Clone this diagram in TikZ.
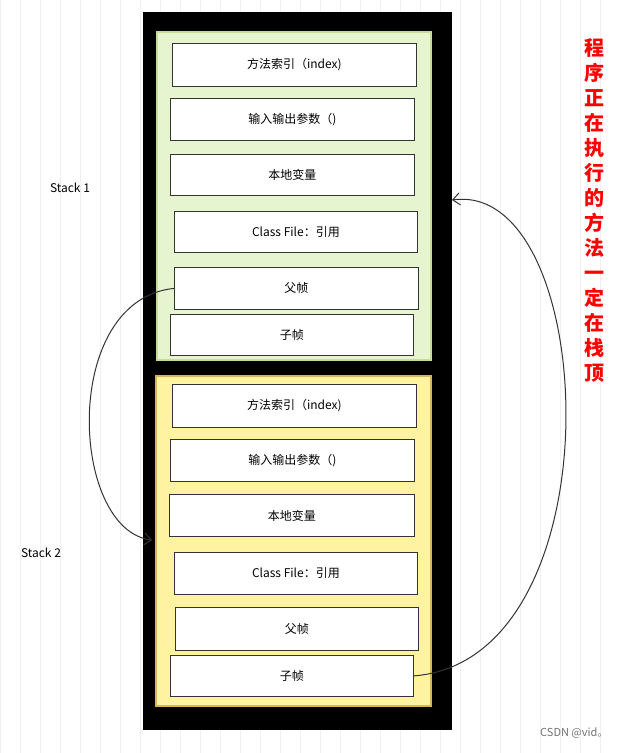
\documentclass[tikz,border=0pt]{standalone}
\usepackage{fontspec}
\setmainfont{Noto Sans CJK SC}
\usetikzlibrary{arrows.meta}
\begin{document}
\begin{tikzpicture}[x=1pt,y=-1pt,
  fr/.style={draw=black!80,fill=white,line width=0.8pt,font=\fontsize{12}{14}\selectfont},
  conn/.style={draw=black!80,line width=1pt,-{Straight Barb[length=7pt,width=12pt]}}]
\useasboundingbox (0,0) rectangle (618,753);
\fill[white] (0,0) rectangle (618,753);
\draw[black!6,step=20] (0,0) grid (618,753);
\fill[black] (143,12) rectangle (452,730);
\draw[fill={rgb,255:red,230;green,245;blue,208},draw={rgb,255:red,200;green,220;blue,150},line width=1.5pt] (157,32) rectangle (431,360);
\draw[fill={rgb,255:red,255;green,242;blue,160},draw={rgb,255:red,214;green,182;blue,86},line width=1.5pt] (156,376) rectangle (431,706);
\foreach \n/\a/\b/\c/\d/\t in {
 a1/172/43/416/86/{方法索引（index)},a2/170/98/414/140/{输入输出参数（)},a3/170/154/414/195/本地变量,
 a4/174/211/417/252/{Class File：引用},a5/174/267/418/309/父帧,a6/170/314/413/355/子帧,
 b1/172/384/416/427/{方法索引（index)},b2/170/439/414/481/{输入输出参数（)},b3/169/494/414/536/本地变量,
 b4/174/552/417/594/{Class File：引用},b5/175/607/418/650/父帧,b6/170/655/413/696/子帧}
 \node[fr,minimum width={\c-\a},minimum height={\d-\b},inner sep=0,anchor=north west] (\n) at (\a,\b) {\t};
\node[font=\fontsize{12}{14}\selectfont] (s1) at (70,188) {Stack 1};
\node[font=\fontsize{12}{14}\selectfont] (s2) at (41,553) {Stack 2};
\node[text=red,font=\fontsize{20}{25}\selectfont\bfseries,align=center,anchor=north] (note) at (594,35)
 {程\\序\\正\\在\\执\\行\\的\\方\\法\\一\\定\\在\\栈\\顶};
\node[text=black!55,font=\fontsize{11}{13}\selectfont,anchor=east] (wm) at (612,733) {CSDN @vid。};
\coordinate (t1) at (152,540);
\coordinate (t2) at (452,200);
\draw[conn] (a5.west) .. controls (60,300) and (70,530) .. (t1);
\draw[conn] (b6.east) .. controls (620,660) and (600,180) .. (t2);
\end{tikzpicture}
\end{document}
